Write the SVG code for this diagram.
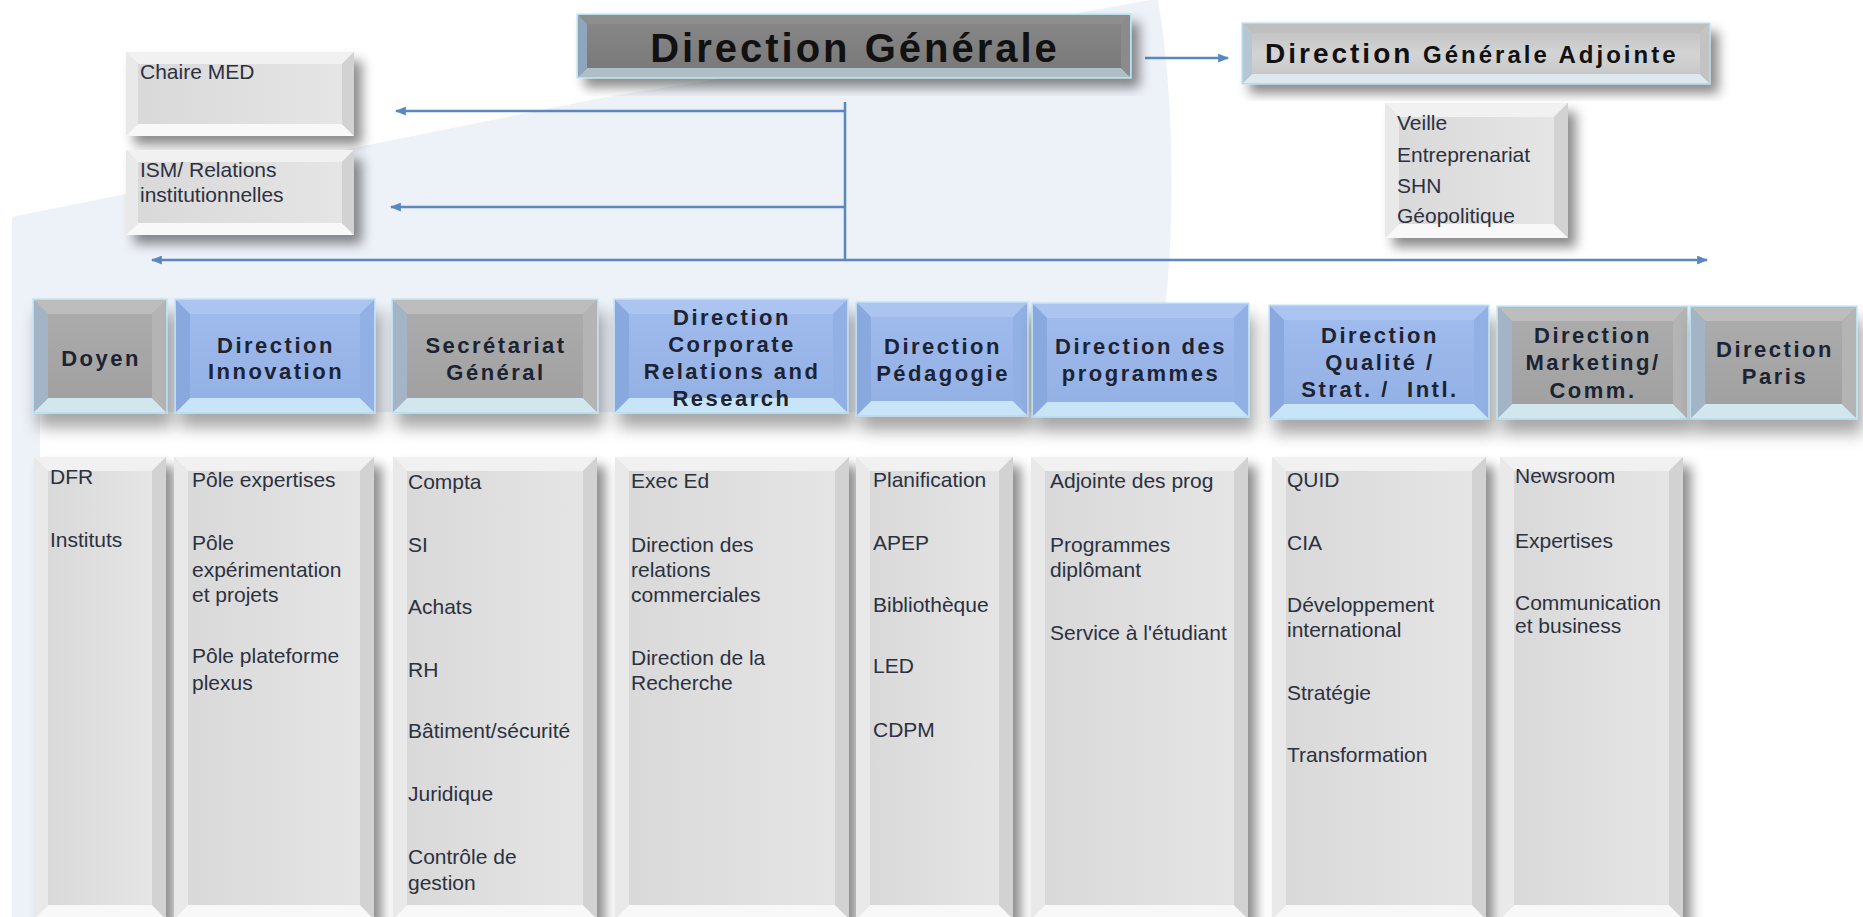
<svg xmlns="http://www.w3.org/2000/svg" width="1863" height="917" viewBox="0 0 1863 917">
<defs>
<style>
.base{stroke-width:3}
.sh{filter:url(#ds)}
.shh{filter:url(#dsh)}
.gray .base{fill:#a6a6a6;stroke:#b9dff0}
.gray .t{fill:#bdbdbd}.gray .b{fill:#d2e6ee}.gray .l{fill:#a2b4c5}.gray .r{fill:#b4b4b4}.gray .f{fill:url(#gGray)}
.blue .base{fill:#98b5e8;stroke:#b9def3}
.blue .t{fill:#abc5f0}.blue .b{fill:#c8e4f7}.blue .l{fill:#88a8de}.blue .r{fill:#92b0e3}.blue .f{fill:url(#gBlue)}
.dark .base{fill:#7f7f7f;stroke:#b5e2ec}
.dark .t{fill:#8e8e8e}.dark .b{fill:#aebfc6}.dark .l{fill:#8ea6bd}.dark .r{fill:#8b8b8b}.dark .f{fill:url(#gDark)}
.mid .base{fill:#c9c9c9;stroke:#b5dcee}
.mid .t{fill:#bfbfbf}.mid .b{fill:#dde9ee}.mid .l{fill:#b5c7d5}.mid .r{fill:#c3c3c3}.mid .f{fill:url(#gMid)}
.light .base{fill:#dedede;stroke:none}
.light .t{fill:#f1f1f1}.light .b{fill:#f8f8f8}.light .l{fill:#e9e9e9}.light .r{fill:#d2d2d2}.light .f{fill:url(#gLight)}
.h{font-family:"Liberation Sans",Arial,sans-serif;font-weight:bold;font-size:22px;letter-spacing:2.5px;fill:#1c2333;text-anchor:middle}
.i{font-family:"Liberation Sans",Arial,sans-serif;font-size:21px;fill:#2c3140}
.conn line{stroke:#5b87c1;stroke-width:2.5;fill:none}
</style>
<linearGradient id="gGray" x1="0" y1="0" x2="0" y2="1"><stop offset="0" stop-color="#ababab"/><stop offset="1" stop-color="#a1a1a1"/></linearGradient>
<linearGradient id="gBlue" x1="0" y1="0" x2="0" y2="1"><stop offset="0" stop-color="#9fbaec"/><stop offset="1" stop-color="#94b1e5"/></linearGradient>
<linearGradient id="gDark" x1="0" y1="0" x2="0" y2="1"><stop offset="0" stop-color="#868686"/><stop offset="1" stop-color="#7a7a7a"/></linearGradient>
<linearGradient id="gMid" x1="0" y1="0" x2="0" y2="1"><stop offset="0" stop-color="#c4c4c4"/><stop offset="0.5" stop-color="#d4d4d4"/><stop offset="1" stop-color="#c8c8c8"/></linearGradient>
<linearGradient id="gLight" x1="0" y1="0" x2="1" y2="0"><stop offset="0" stop-color="#d9d9d9"/><stop offset="1" stop-color="#e5e5e5"/></linearGradient>
<filter id="ds" x="-20%" y="-20%" width="150%" height="150%"><feDropShadow dx="8" dy="9" stdDeviation="6" flood-color="#000" flood-opacity="0.45"/></filter>
<filter id="dsh" x="-20%" y="-20%" width="150%" height="160%"><feDropShadow dx="5" dy="14" stdDeviation="8" flood-color="#000" flood-opacity="0.35"/></filter>
<marker id="ah" viewBox="0 0 10 8" refX="9" refY="4" markerWidth="11" markerHeight="9" markerUnits="userSpaceOnUse" orient="auto-start-reverse"><path d="M0,0 L10,4 L0,8 z" fill="#5b87c1"/></marker>
</defs>

<rect x="0" y="0" width="1863" height="917" fill="#ffffff"/>
<path d="M12,217 L606,97 L700,82 L1150,0 L1158,0 C1172,80 1176,200 1166,300 L1166,300 L1166,412 L40,412 L40,917 L12,917 Z" fill="#edf1f8"/>

<g id="connectors" class="conn">
<line x1="1145" y1="58" x2="1228" y2="58" marker-end="url(#ah)"/>
<line x1="845" y1="102" x2="845" y2="260"/>
<line x1="845" y1="111" x2="396" y2="111" marker-end="url(#ah)"/>
<line x1="845" y1="207" x2="391" y2="207" marker-end="url(#ah)"/>
<line x1="152" y1="260" x2="1707" y2="260" marker-start="url(#ah)" marker-end="url(#ah)"/>
</g>

<g id="n-dg" class="dark">
<rect class="base sh" x="578" y="15" width="552" height="62"/>
<polygon class="t" points="578,15 1130,15 1121,24 587,24"/>
<polygon class="b" points="578,77 1130,77 1121,68 587,68"/>
<polygon class="l" points="578,15 587,24 587,68 578,77"/>
<polygon class="r" points="1130,15 1121,24 1121,68 1130,77"/>
<rect class="f" x="587" y="24" width="534" height="44"/>
<text x="855" y="62" font-family="Liberation Sans, Arial, sans-serif" font-weight="bold" font-size="40" letter-spacing="3" fill="#111" text-anchor="middle">Direction Générale</text>
</g>

<g id="n-dga" class="mid">
<rect class="base sh" x="1243" y="24" width="466" height="59"/>
<polygon class="t" points="1243,24 1709,24 1700,33 1252,33"/>
<polygon class="b" points="1243,83 1709,83 1700,74 1252,74"/>
<polygon class="l" points="1243,24 1252,33 1252,74 1243,83"/>
<polygon class="r" points="1709,24 1700,33 1700,74 1709,83"/>
<rect class="f" x="1252" y="33" width="448" height="41"/>
<text x="1265" y="63" font-family="Liberation Sans, Arial, sans-serif" font-weight="bold" letter-spacing="3" fill="#111"><tspan font-size="28">Direction</tspan><tspan font-size="24"> Générale Adjointe</tspan></text>
</g>

<g id="n-chaire" class="light">
<rect class="base sh" x="126" y="52" width="228" height="84"/>
<polygon class="t" points="126,52 354,52 342,64 138,64"/>
<polygon class="b" points="126,136 354,136 342,124 138,124"/>
<polygon class="l" points="126,52 138,64 138,124 126,136"/>
<polygon class="r" points="354,52 342,64 342,124 354,136"/>
<rect class="f" x="138" y="64" width="204" height="60"/>
<text class="i" x="140" y="79">Chaire MED</text>
</g>

<g id="n-ism" class="light">
<rect class="base sh" x="126" y="150" width="228" height="85"/>
<polygon class="t" points="126,150 354,150 342,162 138,162"/>
<polygon class="b" points="126,235 354,235 342,223 138,223"/>
<polygon class="l" points="126,150 138,162 138,223 126,235"/>
<polygon class="r" points="354,150 342,162 342,223 354,235"/>
<rect class="f" x="138" y="162" width="204" height="61"/>
<text class="i" x="140" y="177">ISM/ Relations</text>
<text class="i" x="140" y="202">institutionnelles</text>
</g>

<g id="n-veille" class="light">
<rect class="base sh" x="1385" y="103" width="183" height="135"/>
<polygon class="t" points="1385,103 1568,103 1554,117 1399,117"/>
<polygon class="b" points="1385,238 1568,238 1554,224 1399,224"/>
<polygon class="l" points="1385,103 1399,117 1399,224 1385,238"/>
<polygon class="r" points="1568,103 1554,117 1554,224 1568,238"/>
<rect class="f" x="1399" y="117" width="155" height="107"/>
<text class="i" x="1397" y="130">Veille</text>
<text class="i" x="1397" y="162">Entreprenariat</text>
<text class="i" x="1397" y="193">SHN</text>
<text class="i" x="1397" y="223">Géopolitique</text>
</g>

<!-- Columns -->
<g id="c-doyen" class="light">
<rect class="base sh" x="34" y="457" width="132" height="462"/>
<polygon class="t" points="34,457 166,457 152,471 48,471"/>
<polygon class="b" points="34,919 166,919 152,905 48,905"/>
<polygon class="l" points="34,457 48,471 48,905 34,919"/>
<polygon class="r" points="166,457 152,471 152,905 166,919"/>
<rect class="f" x="48" y="471" width="104" height="434"/>
<text class="i" x="50" y="484">DFR</text>
<text class="i" x="50" y="547">Instituts</text>
</g>

<g id="c-innovation" class="light">
<rect class="base sh" x="174" y="457" width="200" height="462"/>
<polygon class="t" points="174,457 374,457 360,471 188,471"/>
<polygon class="b" points="174,919 374,919 360,905 188,905"/>
<polygon class="l" points="174,457 188,471 188,905 174,919"/>
<polygon class="r" points="374,457 360,471 360,905 374,919"/>
<rect class="f" x="188" y="471" width="172" height="434"/>
<text class="i" x="192" y="487">Pôle expertises</text>
<text class="i" x="192" y="550">Pôle</text>
<text class="i" x="192" y="577">expérimentation</text>
<text class="i" x="192" y="602">et projets</text>
<text class="i" x="192" y="663">Pôle plateforme</text>
<text class="i" x="192" y="690">plexus</text>
</g>

<g id="c-secretariat" class="light">
<rect class="base sh" x="393" y="457" width="204" height="462"/>
<polygon class="t" points="393,457 597,457 583,471 407,471"/>
<polygon class="b" points="393,919 597,919 583,905 407,905"/>
<polygon class="l" points="393,457 407,471 407,905 393,919"/>
<polygon class="r" points="597,457 583,471 583,905 597,919"/>
<rect class="f" x="407" y="471" width="176" height="434"/>
<text class="i" x="408" y="489">Compta</text>
<text class="i" x="408" y="552">SI</text>
<text class="i" x="408" y="614">Achats</text>
<text class="i" x="408" y="677">RH</text>
<text class="i" x="408" y="738">Bâtiment/sécurité</text>
<text class="i" x="408" y="801">Juridique</text>
<text class="i" x="408" y="864">Contrôle de</text>
<text class="i" x="408" y="890">gestion</text>
</g>

<g id="c-corporate" class="light">
<rect class="base sh" x="615" y="457" width="234" height="462"/>
<polygon class="t" points="615,457 849,457 835,471 629,471"/>
<polygon class="b" points="615,919 849,919 835,905 629,905"/>
<polygon class="l" points="615,457 629,471 629,905 615,919"/>
<polygon class="r" points="849,457 835,471 835,905 849,919"/>
<rect class="f" x="629" y="471" width="206" height="434"/>
<text class="i" x="631" y="488">Exec Ed</text>
<text class="i" x="631" y="552">Direction des</text>
<text class="i" x="631" y="577">relations</text>
<text class="i" x="631" y="602">commerciales</text>
<text class="i" x="631" y="665">Direction de la</text>
<text class="i" x="631" y="690">Recherche</text>
</g>

<g id="c-pedagogie" class="light">
<rect class="base sh" x="856" y="457" width="157" height="462"/>
<polygon class="t" points="856,457 1013,457 999,471 870,471"/>
<polygon class="b" points="856,919 1013,919 999,905 870,905"/>
<polygon class="l" points="856,457 870,471 870,905 856,919"/>
<polygon class="r" points="1013,457 999,471 999,905 1013,919"/>
<rect class="f" x="870" y="471" width="129" height="434"/>
<text class="i" x="873" y="487">Planification</text>
<text class="i" x="873" y="550">APEP</text>
<text class="i" x="873" y="612">Bibliothèque</text>
<text class="i" x="873" y="673">LED</text>
<text class="i" x="873" y="737">CDPM</text>
</g>

<g id="c-programmes" class="light">
<rect class="base sh" x="1031" y="457" width="217" height="462"/>
<polygon class="t" points="1031,457 1248,457 1234,471 1045,471"/>
<polygon class="b" points="1031,919 1248,919 1234,905 1045,905"/>
<polygon class="l" points="1031,457 1045,471 1045,905 1031,919"/>
<polygon class="r" points="1248,457 1234,471 1234,905 1248,919"/>
<rect class="f" x="1045" y="471" width="189" height="434"/>
<text class="i" x="1050" y="488">Adjointe des prog</text>
<text class="i" x="1050" y="552">Programmes</text>
<text class="i" x="1050" y="577">diplômant</text>
<text class="i" x="1050" y="640">Service à l'étudiant</text>
</g>

<g id="c-qualite" class="light">
<rect class="base sh" x="1272" y="457" width="214" height="462"/>
<polygon class="t" points="1272,457 1486,457 1472,471 1286,471"/>
<polygon class="b" points="1272,919 1486,919 1472,905 1286,905"/>
<polygon class="l" points="1272,457 1286,471 1286,905 1272,919"/>
<polygon class="r" points="1486,457 1472,471 1472,905 1486,919"/>
<rect class="f" x="1286" y="471" width="186" height="434"/>
<text class="i" x="1287" y="487">QUID</text>
<text class="i" x="1287" y="550">CIA</text>
<text class="i" x="1287" y="612">Développement</text>
<text class="i" x="1287" y="637">international</text>
<text class="i" x="1287" y="700">Stratégie</text>
<text class="i" x="1287" y="762">Transformation</text>
</g>

<g id="c-marketing" class="light">
<rect class="base sh" x="1500" y="457" width="183" height="462"/>
<polygon class="t" points="1500,457 1683,457 1669,471 1514,471"/>
<polygon class="b" points="1500,919 1683,919 1669,905 1514,905"/>
<polygon class="l" points="1500,457 1514,471 1514,905 1500,919"/>
<polygon class="r" points="1683,457 1669,471 1669,905 1683,919"/>
<rect class="f" x="1514" y="471" width="155" height="434"/>
<text class="i" x="1515" y="483">Newsroom</text>
<text class="i" x="1515" y="548">Expertises</text>
<text class="i" x="1515" y="610">Communication</text>
<text class="i" x="1515" y="633">et business</text>
</g>

<!-- Headers -->
<g id="h-doyen" class="gray">
<rect class="base shh" x="34" y="300" width="132" height="112"/>
<polygon class="t" points="34,300 166,300 152,314 48,314"/>
<polygon class="b" points="34,412 166,412 152,398 48,398"/>
<polygon class="l" points="34,300 48,314 48,398 34,412"/>
<polygon class="r" points="166,300 152,314 152,398 166,412"/>
<rect class="f" x="48" y="314" width="104" height="84"/>
<text class="h" x="101" y="366">Doyen</text>
</g>

<g id="h-innovation" class="blue">
<rect class="base shh" x="176" y="300" width="198" height="112"/>
<polygon class="t" points="176,300 374,300 360,314 190,314"/>
<polygon class="b" points="176,412 374,412 360,398 190,398"/>
<polygon class="l" points="176,300 190,314 190,398 176,412"/>
<polygon class="r" points="374,300 360,314 360,398 374,412"/>
<rect class="f" x="190" y="314" width="170" height="84"/>
<text class="h" x="276" y="353">Direction</text>
<text class="h" x="276" y="379">Innovation</text>
</g>

<g id="h-secretariat" class="gray">
<rect class="base shh" x="393" y="300" width="204" height="112"/>
<polygon class="t" points="393,300 597,300 583,314 407,314"/>
<polygon class="b" points="393,412 597,412 583,398 407,398"/>
<polygon class="l" points="393,300 407,314 407,398 393,412"/>
<polygon class="r" points="597,300 583,314 583,398 597,412"/>
<rect class="f" x="407" y="314" width="176" height="84"/>
<text class="h" x="496" y="353">Secrétariat</text>
<text class="h" x="496" y="380">Général</text>
</g>

<g id="h-corporate" class="blue">
<rect class="base shh" x="615" y="300" width="232" height="112"/>
<polygon class="t" points="615,300 847,300 833,314 629,314"/>
<polygon class="b" points="615,412 847,412 833,398 629,398"/>
<polygon class="l" points="615,300 629,314 629,398 615,412"/>
<polygon class="r" points="847,300 833,314 833,398 847,412"/>
<rect class="f" x="629" y="314" width="204" height="84"/>
<text class="h" x="732" y="325">Direction</text>
<text class="h" x="732" y="352">Corporate</text>
<text class="h" x="732" y="379">Relations and</text>
<text class="h" x="732" y="406">Research</text>
</g>

<g id="h-pedagogie" class="blue">
<rect class="base shh" x="857" y="303" width="170" height="112"/>
<polygon class="t" points="857,303 1027,303 1013,317 871,317"/>
<polygon class="b" points="857,415 1027,415 1013,401 871,401"/>
<polygon class="l" points="857,303 871,317 871,401 857,415"/>
<polygon class="r" points="1027,303 1013,317 1013,401 1027,415"/>
<rect class="f" x="871" y="317" width="142" height="84"/>
<text class="h" x="943" y="354">Direction</text>
<text class="h" x="943" y="381">Pédagogie</text>
</g>

<g id="h-programmes" class="blue">
<rect class="base shh" x="1033" y="304" width="215" height="112"/>
<polygon class="t" points="1033,304 1248,304 1234,318 1047,318"/>
<polygon class="b" points="1033,416 1248,416 1234,402 1047,402"/>
<polygon class="l" points="1033,304 1047,318 1047,402 1033,416"/>
<polygon class="r" points="1248,304 1234,318 1234,402 1248,416"/>
<rect class="f" x="1047" y="318" width="187" height="84"/>
<text class="h" x="1141" y="354">Direction des</text>
<text class="h" x="1141" y="381">programmes</text>
</g>

<g id="h-qualite" class="blue">
<rect class="base shh" x="1270" y="306" width="218" height="112"/>
<polygon class="t" points="1270,306 1488,306 1474,320 1284,320"/>
<polygon class="b" points="1270,418 1488,418 1474,404 1284,404"/>
<polygon class="l" points="1270,306 1284,320 1284,404 1270,418"/>
<polygon class="r" points="1488,306 1474,320 1474,404 1488,418"/>
<rect class="f" x="1284" y="320" width="190" height="84"/>
<text class="h" x="1380" y="343">Direction</text>
<text class="h" x="1380" y="370">Qualité /</text>
<text class="h" x="1380" y="397" xml:space="preserve">Strat. /  Intl.</text>
</g>

<g id="h-marketing" class="gray">
<rect class="base shh" x="1498" y="307" width="189" height="111"/>
<polygon class="t" points="1498,307 1687,307 1673,321 1512,321"/>
<polygon class="b" points="1498,418 1687,418 1673,404 1512,404"/>
<polygon class="l" points="1498,307 1512,321 1512,404 1498,418"/>
<polygon class="r" points="1687,307 1673,321 1673,404 1687,418"/>
<rect class="f" x="1512" y="321" width="161" height="83"/>
<text class="h" x="1593" y="343">Direction</text>
<text class="h" x="1593" y="370">Marketing/</text>
<text class="h" x="1593" y="398">Comm.</text>
</g>

<g id="h-paris" class="gray">
<rect class="base shh" x="1691" y="307" width="165" height="111"/>
<polygon class="t" points="1691,307 1856,307 1842,321 1705,321"/>
<polygon class="b" points="1691,418 1856,418 1842,404 1705,404"/>
<polygon class="l" points="1691,307 1705,321 1705,404 1691,418"/>
<polygon class="r" points="1856,307 1842,321 1842,404 1856,418"/>
<rect class="f" x="1705" y="321" width="137" height="83"/>
<text class="h" x="1775" y="357">Direction</text>
<text class="h" x="1775" y="384">Paris</text>
</g>
</svg>
